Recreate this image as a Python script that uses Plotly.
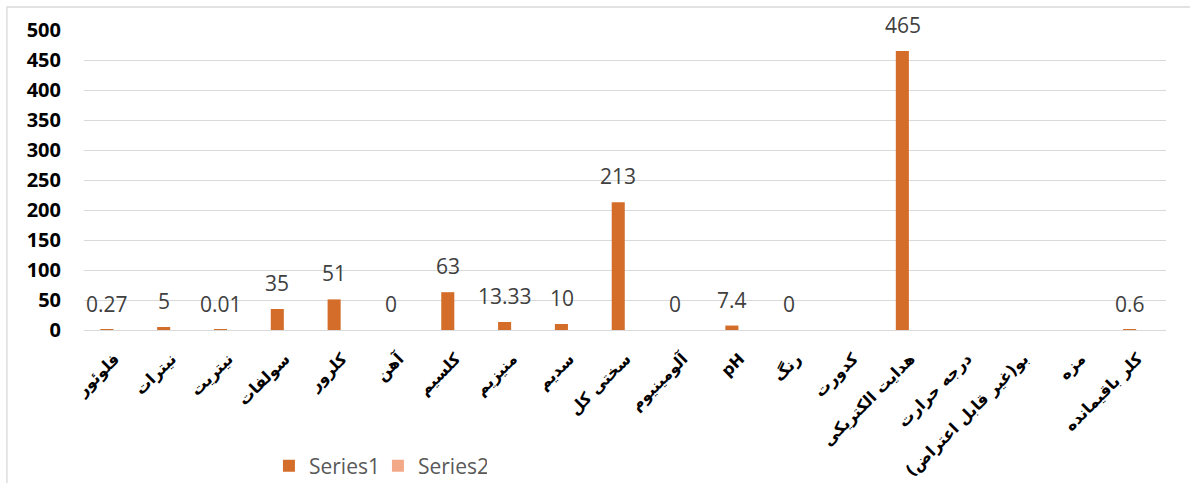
import plotly.graph_objects as go

categories = ["فلوئور", "نیترات", "نیتریت", "سولفات", "کلرور", "آهن", "کلسیم", "منیزیم",
              "سدیم", "سختی کل", "آلومینیوم", "pH", "رنگ", "کدورت", "هدایت الکتریکی",
              "درجه حرارت", "بو(غیر قابل اعتراض)", "مزه", "کلر باقیمانده"]
series1 = [0.27, 5, 0.01, 35, 51, 0, 63, 13.33, 10, 213, 0, 7.4, 0, None, 465,
           None, None, None, 0.6]
series2 = [None] * len(categories)
y_ticks = [0, 50, 100, 150, 200, 250, 300, 350, 400, 450, 500]

C1 = "#D46D2A"
C2 = "#F3A987"
GRID = "#D9D9D9"

fig = go.Figure()
fig.add_trace(go.Bar(name="Series1", x=categories, y=series1, marker_color=C1,
                     width=0.23, offset=-0.255, marker_line_width=0))
fig.add_trace(go.Bar(name="Series2", x=categories, y=series2, marker_color=C2,
                     width=0.23, offset=0.025, marker_line_width=0))

# data labels for Series1
for c, v in zip(categories, series1):
    if v is None:
        continue
    fig.add_annotation(x=c, y=v, text=f"{v:g}", showarrow=False, xref="x", yref="y",
                       yanchor="bottom", xanchor="center", xshift=-7.8, yshift=10,
                       font=dict(family="Open Sans", size=21, color="#404040"))

fig.add_shape(type="rect", xref="paper", yref="paper", x0=-0.0712, x1=1.2,
              y0=-0.7, y1=1.0767, line=dict(color=GRID, width=1.3), layer="below")

fig.update_layout(
    width=1190, height=483,
    margin=dict(l=84, r=24, t=30, b=153, autoexpand=False),
    paper_bgcolor="white", plot_bgcolor="white",
    barmode="group",
    showlegend=True,
    legend=dict(orientation="h", xref="container", yref="container",
                x=0.226, y=0.035, xanchor="left", yanchor="middle",
                font=dict(family="Open Sans", size=21, color="#595959"),
                itemwidth=30, traceorder="normal", entrywidth=64, entrywidthmode="pixels"),
    xaxis=dict(tickangle=-45, automargin=False, showgrid=False,
               showline=True, linecolor=GRID, linewidth=1.3,
               tickfont=dict(family="DejaVu Sans", size=16, color="black", weight="bold"),
               ticks="", ticklabelstandoff=12),
    yaxis=dict(range=[0, 500], tickvals=y_ticks, showgrid=True, gridcolor=GRID, gridwidth=1.3,
               zeroline=False, automargin=False, showline=False,
               tickfont=dict(family="Open Sans", size=20, color="black", weight="bold"),
               ticklabelstandoff=22),
)

fig.write_html("out.html")
